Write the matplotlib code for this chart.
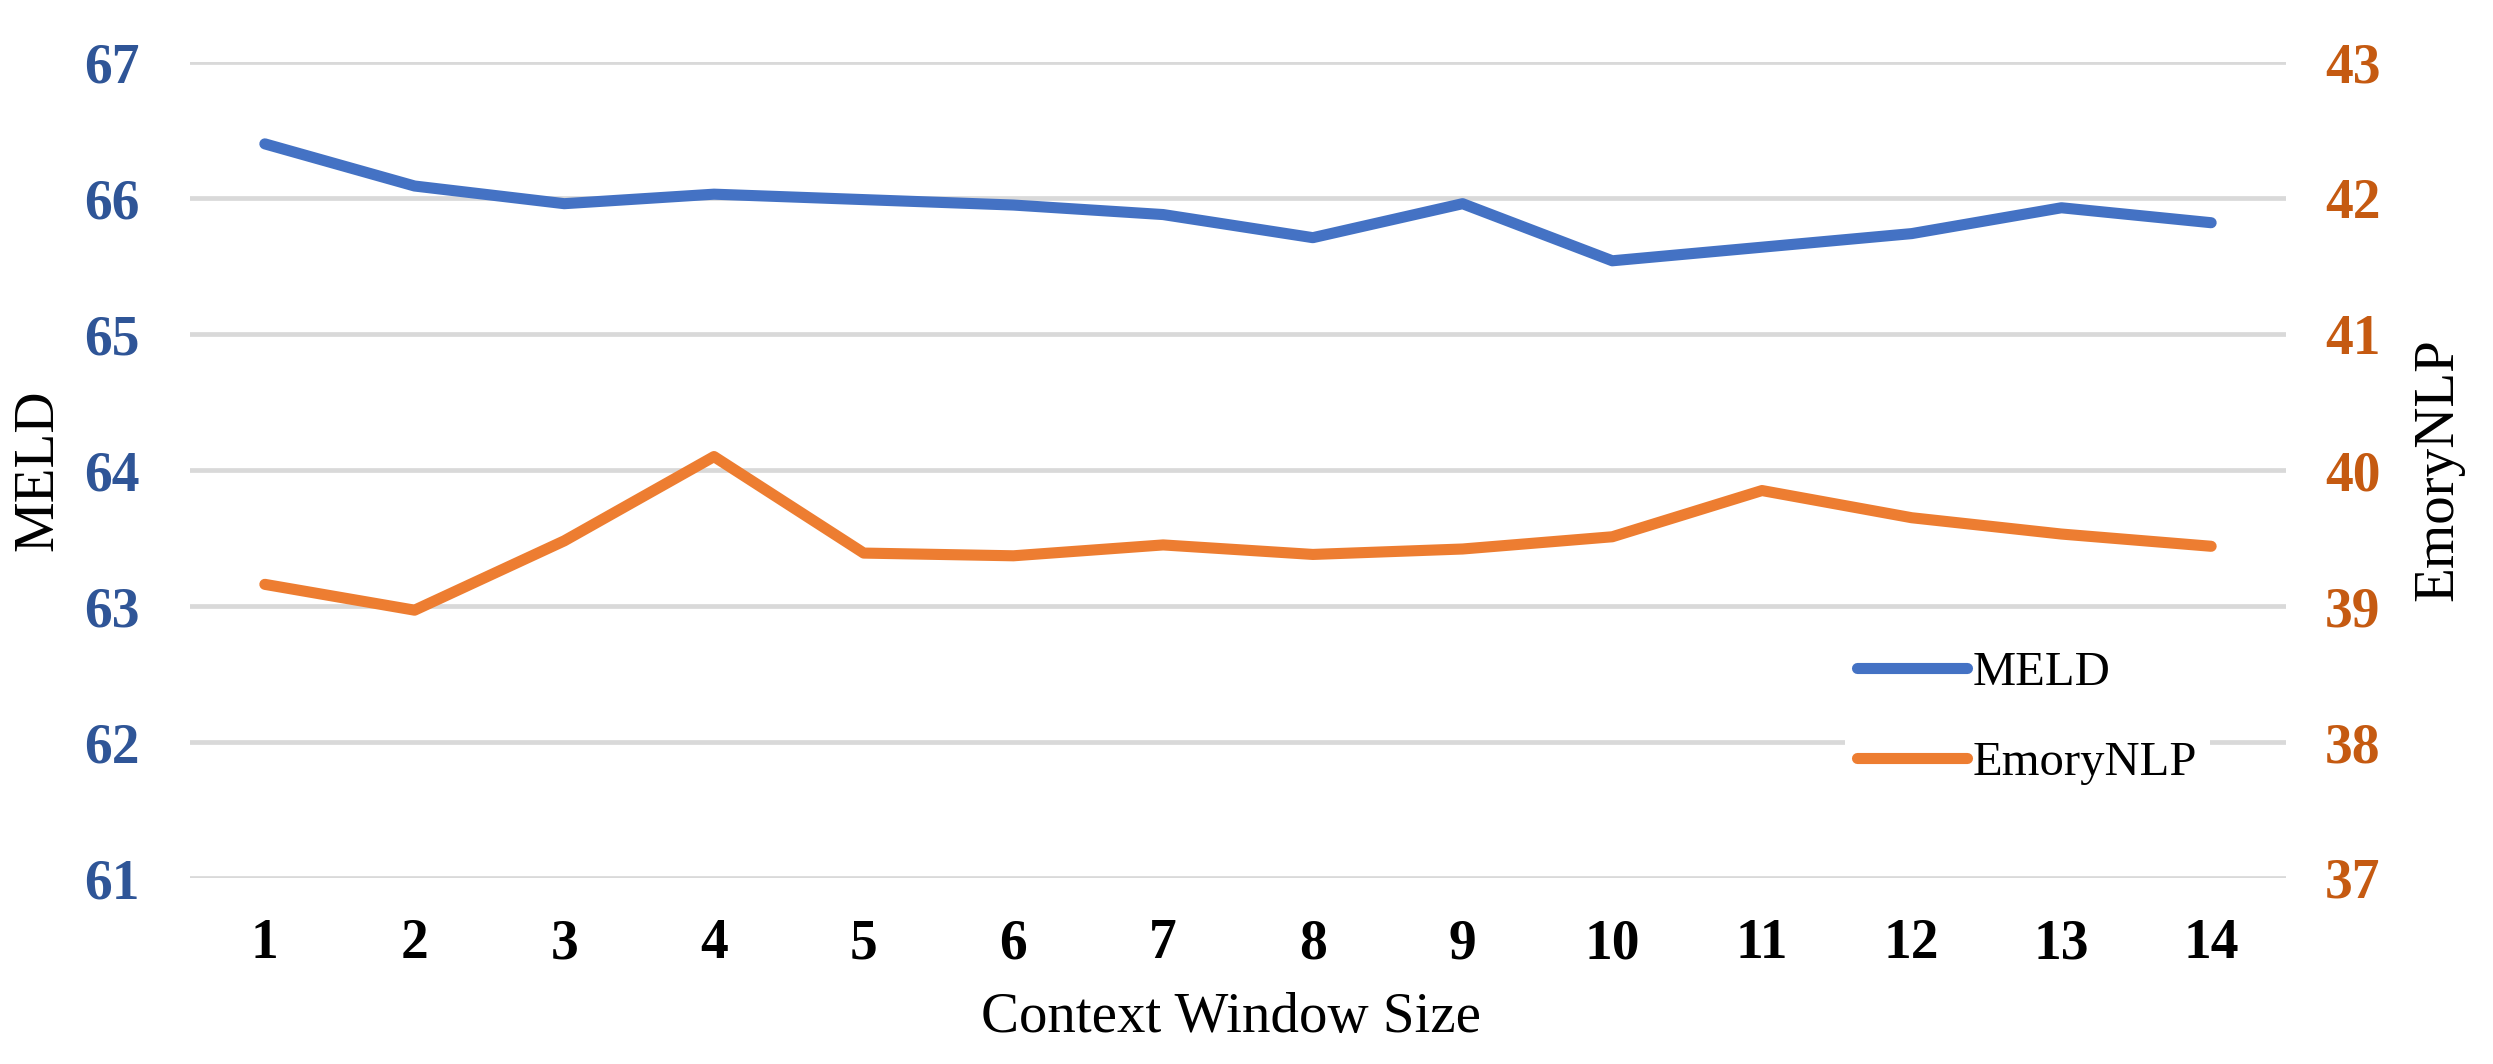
import matplotlib
matplotlib.use("Agg")
import matplotlib.pyplot as plt

plt.rcParams['font.family'] = ['Liberation Serif', 'DejaVu Serif']

window_sizes = [1, 2, 3, 4, 5, 6, 7, 8, 9, 10, 11, 12, 13, 14]
meld = [66.40, 66.09, 65.96, 66.03, 65.99, 65.95, 65.88, 65.71, 65.96, 65.54, 65.64, 65.74, 65.93, 65.82]
emorynlp = [39.16, 38.97, 39.48, 40.10, 39.39, 39.37, 39.45, 39.38, 39.42, 39.51, 39.85, 39.65, 39.53, 39.44]
meld_ticks = [61, 62, 63, 64, 65, 66, 67]
emory_ticks = [37, 38, 39, 40, 41, 42, 43]

W, H = 2493, 1064
fig = plt.figure(figsize=(W / 100, H / 100), dpi=100)
ax_l, ax_r, ax_t, ax_b = 190, 2286, 62.3, 878
ax = fig.add_axes([ax_l / W, 1 - ax_b / H, (ax_r - ax_l) / W, (ax_b - ax_t) / H])
ax2 = ax.twinx()

blue = '#4472C4'
orange = '#ED7D31'
lw = 8.0

l1, = ax.plot(window_sizes, meld, color=blue, lw=lw, solid_capstyle='round', label='MELD', zorder=3)
l2, = ax2.plot(window_sizes, emorynlp, color=orange, lw=lw, solid_capstyle='round', label='EmoryNLP', zorder=3)

ax.set_xlim(0.5, 14.5)
ax.set_ylim(61, 67)
ax2.set_ylim(37, 43)
ax.set_yticks(meld_ticks)
ax2.set_yticks(emory_ticks)
ax.set_xticks(window_sizes)
ax.set_xticklabels([str(w) for w in window_sizes])

ax.grid(axis='y', color='#D9D9D9', lw=3.4, zorder=0)
ax.set_axisbelow(True)
for a in (ax, ax2):
    for s in a.spines.values():
        s.set_visible(False)

ax.tick_params(axis='both', length=0)
ax2.tick_params(axis='both', length=0)
ax.tick_params(axis='y', pad=36, labelsize=40, labelcolor='#2F5597')
ax.tick_params(axis='x', pad=29, labelsize=40, labelcolor='black')
ax2.tick_params(axis='y', pad=28, labelsize=40, labelcolor='#C55A11')
for lab in ax.get_yticklabels() + ax.get_xticklabels() + ax2.get_yticklabels():
    lab.set_fontweight('bold')

fig.text(38 / W, 1 - 470 / H, 'MELD', rotation=90, ha='center', va='center', fontsize=41)
fig.text(2438 / W, 1 - 470 / H, 'EmoryNLP', rotation=90, ha='center', va='center', fontsize=41)
fig.text(1231 / W, 1 - 1018 / H, 'Context Window Size', ha='center', va='center', fontsize=41)

leg = ax2.legend(handles=[l1, l2], loc='center left',
                 bbox_to_anchor=(1845 / W, 1 - 718 / H), bbox_transform=fig.transFigure,
                 fontsize=35, frameon=True, facecolor='white', edgecolor='none', framealpha=1,
                 handlelength=2.26, handletextpad=0.12, labelspacing=0.95, borderpad=0.25,
                 borderaxespad=0, fancybox=False)
leg.set_zorder(5)

fig.savefig('out.png', dpi=100, facecolor='white')
